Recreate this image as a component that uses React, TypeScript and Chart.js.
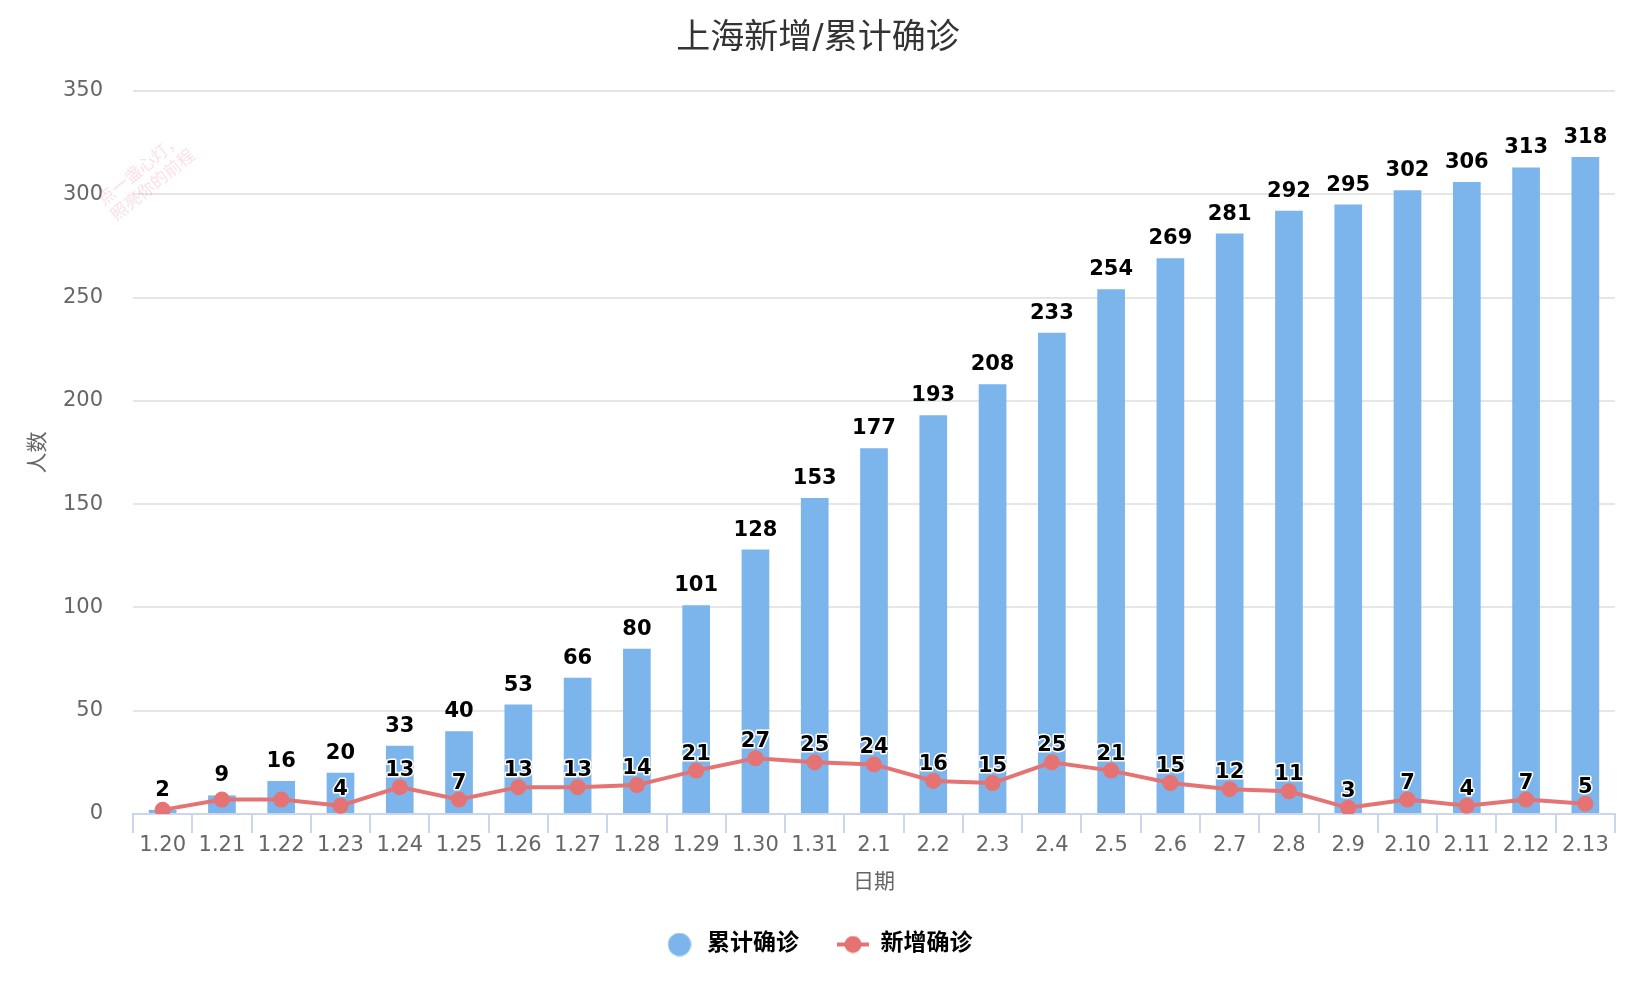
import { useEffect, useRef } from "react"
import { Chart, registerables } from "chart.js"

Chart.register(...registerables)

const dates = [
  "1.20", "1.21", "1.22", "1.23", "1.24", "1.25", "1.26", "1.27", "1.28", "1.29", "1.30", "1.31",
  "2.1", "2.2", "2.3", "2.4", "2.5", "2.6", "2.7", "2.8", "2.9", "2.10", "2.11", "2.12", "2.13",
]
const totalCases = [2, 9, 16, 20, 33, 40, 53, 66, 80, 101, 128, 153, 177, 193, 208, 233, 254, 269, 281, 292, 295, 302, 306, 313, 318]
const newCases = [2, 7, 7, 4, 13, 7, 13, 13, 14, 21, 27, 25, 24, 16, 15, 25, 21, 15, 12, 11, 3, 7, 4, 7, 5]
const watermarkLines = ["点一盏心灯，", "照亮你的前程"]

const FONT = "'DejaVu Sans', 'Noto Sans CJK SC', sans-serif"
const BAR_COLOR = "#7cb5ec"
const LINE_COLOR = "#e57373"

// labels above bars and points (line label skipped when it would hit the bar label)
const valueLabels = {
  id: "valueLabels",
  afterDatasetsDraw(chart: any) {
    const ctx = chart.ctx
    const barMeta = chart.getDatasetMeta(0)
    const lineMeta = chart.getDatasetMeta(1)
    ctx.save()
    ctx.font = `bold 21px ${FONT}`
    ctx.textAlign = "center"
    ctx.textBaseline = "alphabetic"
    ctx.lineJoin = "round"
    ctx.strokeStyle = "#ffffff"
    ctx.lineWidth = 3
    ctx.fillStyle = "#000000"
    const barLabelY: number[] = []
    barMeta.data.forEach((bar: any, i: number) => {
      const y = bar.y - 14
      barLabelY.push(y)
      ctx.fillText(String(totalCases[i]), bar.x, y)
    })
    lineMeta.data.forEach((pt: any, i: number) => {
      const y = pt.y - 11
      if (Math.abs(y - barLabelY[i]) < 25) return
      ctx.strokeText(String(newCases[i]), pt.x, y)
      ctx.fillText(String(newCases[i]), pt.x, y)
    })
    ctx.restore()
  },
}

const watermark = {
  id: "watermark",
  beforeDatasetsDraw(chart: any) {
    const ctx = chart.ctx
    ctx.save()
    ctx.translate(104, 206)
    ctx.rotate(-0.68)
    ctx.font = `17px ${FONT}`
    ctx.fillStyle = "rgba(240, 80, 110, 0.18)"
    ctx.textBaseline = "alphabetic"
    watermarkLines.forEach((t, i) => ctx.fillText(t, 0, i * 20))
    ctx.restore()
  },
}

function makeCircleIcon() {
  const c = document.createElement("canvas")
  c.width = 24
  c.height = 24
  const g = c.getContext("2d")!
  g.fillStyle = BAR_COLOR
  g.beginPath()
  g.arc(12, 12, 11.5, 0, Math.PI * 2)
  g.fill()
  return c
}

function makeLineIcon() {
  const c = document.createElement("canvas")
  c.width = 32
  c.height = 18
  const g = c.getContext("2d")!
  g.strokeStyle = LINE_COLOR
  g.lineWidth = 4
  g.beginPath()
  g.moveTo(0, 9)
  g.lineTo(32, 9)
  g.stroke()
  g.fillStyle = LINE_COLOR
  g.beginPath()
  g.arc(16, 9, 8.5, 0, Math.PI * 2)
  g.fill()
  return c
}

export default function App() {
  const chartRef = useRef<HTMLCanvasElement>(null)
  const chartInstance = useRef<Chart | null>(null)

  useEffect(() => {
    document.body.style.margin = "0"
    if (!chartRef.current) return

    if (chartInstance.current) {
      chartInstance.current.destroy()
    }

    const ctx = chartRef.current.getContext("2d")
    if (!ctx) return

    const circleIcon = makeCircleIcon()
    const lineIcon = makeLineIcon()

    chartInstance.current = new Chart(ctx, {
      type: "bar",
      data: {
        labels: dates,
        datasets: [
          {
            type: "bar",
            label: "累计确诊",
            data: totalCases,
            backgroundColor: BAR_COLOR,
            barPercentage: 0.467,
            categoryPercentage: 1,
            order: 2,
          },
          {
            type: "line",
            label: "新增确诊",
            data: newCases,
            borderColor: LINE_COLOR,
            backgroundColor: LINE_COLOR,
            borderWidth: 4,
            pointRadius: 8,
            pointBorderWidth: 0,
            pointBackgroundColor: LINE_COLOR,
            tension: 0,
            order: 1,
          },
        ] as any,
      },
      options: {
        animation: false,
        responsive: true,
        maintainAspectRatio: false,
        layout: {
          padding: { left: 10.5, right: 10.5, top: 0, bottom: 30 },
        },
        plugins: {
          title: {
            display: true,
            text: "上海新增/累计确诊",
            color: "#333333",
            font: { family: FONT, size: 34, weight: "normal" },
            padding: { top: 18.5, bottom: 31.7 },
          },
          legend: {
            position: "bottom",
            labels: {
              usePointStyle: true,
              pointStyleWidth: 32,
              padding: 38,
              color: "#333333",
              font: { family: FONT, size: 23, weight: "bold" },
              generateLabels: () => [
                { text: "累计确诊", pointStyle: circleIcon, fillStyle: BAR_COLOR, strokeStyle: BAR_COLOR, lineWidth: 0, hidden: false, datasetIndex: 0 },
                { text: "新增确诊", pointStyle: lineIcon, fillStyle: LINE_COLOR, strokeStyle: LINE_COLOR, lineWidth: 0, hidden: false, datasetIndex: 1 },
              ] as any,
            },
          },
          tooltip: { enabled: false },
        },
        scales: {
          x: {
            grid: {
              display: true,
              drawOnChartArea: false,
              drawTicks: true,
              tickLength: 19,
              color: "#ccd6eb",
              lineWidth: 2,
              offset: true,
            },
            border: { display: true, color: "#ccd6eb", width: 2 },
            ticks: {
              color: "#666666",
              font: { family: FONT, size: 21 },
              padding: 0,
              autoSkip: false,
              maxRotation: 0,
            },
            title: {
              display: true,
              text: "日期",
              color: "#666666",
              font: { family: FONT, size: 21 },
              padding: { top: 0, bottom: 0 },
            },
            afterFit: (scale: any) => {
              scale.height = 81
            },
          },
          y: {
            min: 0,
            max: 350,
            grid: {
              color: (c: any) => (c.tick && c.tick.value === 0 ? "rgba(0,0,0,0)" : "#e6e6e6"),
              lineWidth: 2,
              drawTicks: false,
            },
            border: { display: false },
            ticks: {
              stepSize: 50,
              padding: 30,
              color: "#666666",
              font: { family: FONT, size: 21 },
            },
            title: {
              display: true,
              text: "人数",
              color: "#666666",
              font: { family: FONT, size: 21 },
              padding: { top: 15, bottom: 0 },
            },
            afterFit: (scale: any) => {
              scale.width = 122.5
            },
          },
          yRight: {
            position: "right",
            display: true,
            grid: { display: false },
            border: { display: false },
            ticks: { display: false },
            afterFit: (scale: any) => {
              scale.width = 10.5
            },
          },
        },
      },
      plugins: [watermark, valueLabels],
    })

    return () => {
      if (chartInstance.current) {
        chartInstance.current.destroy()
        chartInstance.current = null
      }
    }
  }, [])

  return (
    <div style={{ width: 1636, height: 996, position: "relative" }}>
      <canvas ref={chartRef}></canvas>
    </div>
  )
}
